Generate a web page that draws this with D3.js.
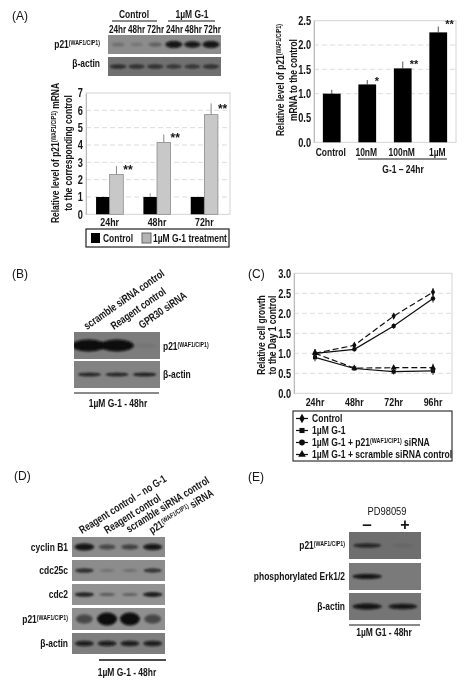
<!DOCTYPE html>
<html><head><meta charset="utf-8">
<script src="https://cdn.jsdelivr.net/npm/d3@7"></script>
<style>
html,body{margin:0;padding:0;background:#fff}
text{font-family:"Liberation Sans",Arial,sans-serif;font-weight:bold;fill:#141414}
</style></head><body><svg id="c" width="468" height="686"></svg>
<script>
// ---- Data ----
const timeA = ["24hr","48hr","72hr"];
const controlA = [1,1,1];
const controlErrA = [0.03,0.22,0.03];
const treatA = [2.3,4.15,5.75];
const treatErrA = [0.48,0.45,0.65];
const sigA = ["**","**","**"];
const doseCats = ["Control","10nM","100nM","1µM"];
const doseVals = [1,1.19,1.52,2.26];
const doseErr = [0.08,0.09,0.14,0.12];
const doseSig = ["","*","**","**"];
const timeC = ["24hr","48hr","72hr","96hr"];
const growthControl = [1.0,1.2,1.93,2.53];
const growthSirna = [1.0,1.1,1.68,2.37];
const growthG1 = [0.9,0.62,0.54,0.56];
const growthScramble = [1.0,0.63,0.64,0.64];
const growthErr = [0.1,0.05,0.07,0.1];
const ticksA = [0,1,2,3,4,5,6,7];
const ticksDose = [0,0.5,1,1.5,2,2.5];
const ticksC = [0,0.5,1,1.5,2,2.5,3];
// Blot band density per lane (0-1)
const blotA_p21 = [0.25,0.18,0.35,0.95,0.9,0.95];
const blotA_actin = [0.75,0.7,0.7,0.65,0.65,0.7];
const blotB_p21 = [1,1,0.06];
const blotB_actin = [0.85,0.85,0.9];
const blotD_cyclin = [0.95,0.55,0.6,0.9];
const blotD_cdc25 = [0.8,0.25,0.28,0.75];
const blotD_cdc2 = [0.9,0.45,0.4,0.95];
const blotD_p21 = [0.55,1,1,0.55];
const blotD_actin = [0.85,0.85,0.85,0.85];
const blotE_p21 = [0.8,0.12];
const blotE_erk = [0.95,0];
const blotE_actin = [0.95,0.9];

const NARROW = 0.77;
const svg = d3.select("#c");
const defs = svg.append("defs");
const f = (id,s)=>defs.append("filter").attr("id",id).attr("x","-30%").attr("y","-150%").attr("width","160%").attr("height","400%")
  .append("feGaussianBlur").attr("stdDeviation",s);
f("soft",0.3); f("band",0.9);
const root = svg.append("g").attr("filter","url(#soft)");

function label(g,x,y,txt,o={}){
  const size=o.size||11, sx=o.sx||NARROW;
  const t=g.append("text").attr("text-anchor",o.anchor||"start").attr("font-size",size)
    .attr("transform",`translate(${x},${y}) ${o.rotate?`rotate(${o.rotate})`:""} scale(${sx},1)`);
  if(o.weight) t.style("font-weight",o.weight);
  txt.split("^").forEach((p,i)=>{
    const s=t.append("tspan").text(p);
    if(i%2==1) s.attr("font-size",size*0.62).attr("dy",-3);
    else if(i>0) s.attr("dy",3);
  });
  return t;
}
const P21="p21^(WAF1/CIP1)^";

function blot(x,y,w,h,bg,vals,pad,bh,bw){
  const g=root.append("g");
  g.append("rect").attr("x",x).attr("y",y).attr("width",w).attr("height",h).attr("fill",bg);
  const sc=d3.scaleBand().domain(d3.range(vals.length)).range([x,x+w]).padding(pad);
  const clipId="c"+Math.round(x)+"_"+Math.round(y);
  defs.append("clipPath").attr("id",clipId).append("rect").attr("x",x).attr("y",y).attr("width",w).attr("height",h);
  g.append("g").attr("clip-path",`url(#${clipId})`).selectAll("ellipse").data(vals).join("ellipse")
    .attr("cx",(d,i)=>sc(i)+sc.bandwidth()/2)
    .attr("rx",d=>sc.bandwidth()*bw*(0.65+0.35*d)/2)
    .attr("cy",y+h/2)
    .attr("ry",d=>bh*(0.35+0.65*d)/2)
    .attr("fill","#080808").attr("opacity",d=>d)
    .attr("filter","url(#band)");
}
function hline(x1,x2,y,w=1.2){root.append("line").attr("x1",x1).attr("x2",x2).attr("y1",y).attr("y2",y).attr("stroke","#111").attr("stroke-width",w);}
function axes(g,x0,x1,y,yTicks,fmt,grid){
  g.append("rect").attr("x",x0).attr("y",y.range()[1]).attr("width",x1-x0).attr("height",y.range()[0]-y.range()[1])
    .attr("fill","none").attr("stroke","#d4d4d4").attr("stroke-width",1);
  g.selectAll("line.g").data(grid).join("line").attr("class","g").attr("x1",x0).attr("x2",x1)
    .attr("y1",d=>y(d)).attr("y2",d=>y(d)).attr("stroke","#dddddd").attr("stroke-dasharray","5,3");
  const a=g.append("g").attr("transform",`translate(${x0},0)`).call(d3.axisLeft(y).tickValues(yTicks).tickSize(0).tickPadding(3).tickFormat(fmt));
  a.select(".domain").attr("stroke","#bbb");
  a.selectAll("text").attr("font-size",12).attr("x",-3/NARROW).attr("transform",`scale(${NARROW},1)`);
}

// Panel labels
[["(A)",12,20],["(B)",12,278],["(C)",248,278],["(D)",14,480],["(E)",248,481]].forEach(d=>label(root,d[1],d[2],d[0],{size:12,weight:"normal",sx:1}));

// ---- Panel A blot
blot(108,35,113,19,"#8c8c8c",blotA_p21,0.08,7,1.0);
blot(108,57,113,19,"#707070",blotA_actin,0.08,5,1.05);
hline(112,157,21);hline(168,215,21);
label(root,134,18,"Control",{anchor:"middle"});
label(root,192,18,"1µM G-1",{anchor:"middle"});
const laneA=d3.scaleBand().domain(d3.range(6)).range([108,222]).padding(0.02);
["24hr","48hr","72hr","24hr","48hr","72hr"].forEach((t,i)=>label(root,laneA(i)+laneA.bandwidth()/2,33,t,{anchor:"middle",size:11,sx:0.74}));
label(root,100,48,P21,{anchor:"end"});
label(root,100,67,"β-actin",{anchor:"end"});

// ---- Panel A bars
{
  const g=root.append("g");
  const y=d3.scaleLinear().domain([0,7]).range([214.3,93]);
  const x=d3.scaleBand().domain(timeA).range([86,228]).paddingInner(0);
  axes(g,86,230,y,ticksA,d3.format("d"),[1,2,3,4,5,6]);
  const bw=13.6, off=d=>x(d)+x.bandwidth()/2;
  timeA.forEach((t,i)=>{
    g.append("line").attr("x1",off(t)-bw/2).attr("x2",off(t)-bw/2).attr("y1",y(controlA[i])).attr("y2",y(controlA[i]+controlErrA[i])).attr("stroke","#999");
    g.append("line").attr("x1",off(t)+bw/2).attr("x2",off(t)+bw/2).attr("y1",y(treatA[i])).attr("y2",y(treatA[i]+treatErrA[i])).attr("stroke","#888");
    g.append("rect").attr("x",off(t)-bw).attr("width",bw).attr("y",y(controlA[i])).attr("height",y(0)-y(controlA[i])).attr("fill","#050505");
    g.append("rect").attr("x",off(t)).attr("width",bw).attr("y",y(treatA[i])).attr("height",y(0)-y(treatA[i])).attr("fill","#c8c8c8").attr("stroke","#808080").attr("stroke-width",0.7);
    label(g,off(t)+bw,y(treatA[i]+treatErrA[i]*0.5)+4,sigA[i],{size:12,sx:1});
    label(g,off(t),226,t,{anchor:"middle",size:11.5});
  });
  label(root,59,153,"Relative level of "+P21+" mRNA",{anchor:"middle",rotate:-90});
  label(root,72,153,"to the corresponding control",{anchor:"middle",rotate:-90});
  const lg=root.append("g");
  lg.append("rect").attr("x",86).attr("y",229).attr("width",143).attr("height",18).attr("fill","#fff").attr("stroke","#222").attr("stroke-width",1.2);
  lg.append("rect").attr("x",91).attr("y",233).attr("width",9).attr("height",10).attr("fill","#050505");
  label(lg,103,242,"Control");
  lg.append("rect").attr("x",142).attr("y",233).attr("width",9).attr("height",10).attr("fill","#b4b4b4").attr("stroke","#666");
  label(lg,153,242,"1µM G-1 treatment");
}

// ---- Panel A right
{
  const g=root.append("g");
  const y=d3.scaleLinear().domain([0,2.5]).range([142.3,20.7]);
  const x=d3.scaleBand().domain(doseCats).range([314,456]).paddingInner(0.5).paddingOuter(0.25);
  axes(g,314,456,y,ticksDose,d3.format(".1f"),[1,1.5,2]);
  doseCats.forEach((c,i)=>{
    const cx=x(c)+x.bandwidth()/2;
    g.append("line").attr("x1",cx).attr("x2",cx).attr("y1",y(doseVals[i])).attr("y2",y(doseVals[i]+doseErr[i])).attr("stroke","#555");
    g.append("rect").attr("x",x(c)).attr("width",x.bandwidth()).attr("y",y(doseVals[i])).attr("height",y(0)-y(doseVals[i])).attr("fill","#050505");
    if(doseSig[i]) label(g,x(c)+x.bandwidth()+(i==1?3:-2),y(doseVals[i]+doseErr[i]*0.4)+(i==3?-2:2),doseSig[i],{size:11,anchor:i==1?"end":"start",sx:1});
    label(g,cx-1,156,c,{anchor:"middle"});
  });
  hline(358,447,159);
  label(root,403,173,"G-1 – 24hr",{anchor:"middle"});
  label(root,284,80,"Relative level of "+P21,{anchor:"middle",rotate:-90});
  label(root,297,80,"mRNA to the control",{anchor:"middle",rotate:-90});
}

// ---- Panel B
blot(74,332,86,27,"#7c7c7c",blotB_p21,0.02,12,1.2);
blot(74,361,86,27,"#828282",blotB_actin,0.12,4,1.0);
[["scramble siRNA control",87,330],["Reagent control",114,330],["GPR30 siRNA",142,329]].forEach(d=>
  label(root,d[1],d[2],d[0],{rotate:-35}));
label(root,163,350,P21);
label(root,163,378,"β-actin");
hline(74,159,393);
label(root,118,407,"1µM G-1 - 48hr",{anchor:"middle"});

// ---- Panel C
{
  const g=root.append("g");
  const y=d3.scaleLinear().domain([0,3]).range([393.3,273.3]);
  const x=d3.scalePoint().domain(timeC).range([315,433]);
  axes(g,294,452,y,ticksC,d3.format(".1f"),[0.5,1,1.5,2,2.5]);
  const ln=d3.line().x((d,i)=>x(timeC[i])).y(d=>y(d));
  const series=[
    {v:growthControl,dash:"6,3",sym:d3.symbolDiamond},
    {v:growthSirna,dash:null,sym:d3.symbolCircle},
    {v:growthG1,dash:null,sym:d3.symbolSquare},
    {v:growthScramble,dash:"6,3",sym:d3.symbolTriangle}];
  series.forEach(s=>{
    g.append("path").attr("d",ln(s.v)).attr("fill","none").attr("stroke","#111").attr("stroke-width",1.2).attr("stroke-dasharray",s.dash);
    s.v.forEach((d,i)=>{
      g.append("line").attr("x1",x(timeC[i])).attr("x2",x(timeC[i])).attr("y1",y(d-growthErr[i])).attr("y2",y(d+growthErr[i])).attr("stroke","#222");
      g.append("path").attr("d",d3.symbol().type(s.sym).size(16)()).attr("transform",`translate(${x(timeC[i])},${y(d)})`).attr("fill","#111");
    });
  });
  timeC.forEach(t=>label(g,x(t),406,t,{anchor:"middle",size:11.5}));
  label(root,265,335,"Relative cell growth",{anchor:"middle",rotate:-90});
  label(root,276,335,"to the Day 1 control",{anchor:"middle",rotate:-90});
  const lg=root.append("g");
  lg.append("rect").attr("x",293).attr("y",411).attr("width",159).attr("height",50).attr("fill","#fff").attr("stroke","#222").attr("stroke-width",1.1);
  const names=["Control","1µM G-1","1µM G-1 + "+P21+" siRNA","1µM G-1 + scramble siRNA control"];
  const syms=[d3.symbolDiamond,d3.symbolSquare,d3.symbolCircle,d3.symbolTriangle];
  const ly=d3.scalePoint().domain(d3.range(4)).range([418.5,454.5]);
  names.forEach((n,i)=>{
    lg.append("line").attr("x1",296).attr("x2",308).attr("y1",ly(i)).attr("y2",ly(i)).attr("stroke","#111").attr("stroke-width",1.2);
    lg.append("path").attr("d",d3.symbol().type(syms[i]).size(26)()).attr("transform",`translate(302,${ly(i)})`).attr("fill","#111");
    label(lg,312,ly(i)+3.5,n,{sx:0.78});
  });
}

// ---- Panel D
const dRows=[[blotD_cyclin,537,20,"cyclin B1","#8a8a8a",7],[blotD_cdc25,560,21,"cdc25c","#8c8c8c",4.5],[blotD_cdc2,584,21,"cdc2","#929292",4.5],[blotD_p21,608,22,"p21","#8f8f8f",13],[blotD_actin,633,21,"β-actin","#7e7e7e",6]];
dRows.forEach(r=>{
  blot(72,r[1],93,r[2],r[4],r[0],0.08,r[5],0.95);
  label(root,68,r[1]+r[2]/2+3.5,r[3]=="p21"?P21:r[3],{anchor:"end"});
});
[["Reagent control – no G-1",82,534],["Reagent control",107,534],["scramble siRNA control",129,533],["p21^(WAF1/CIP1)^ siRNA",152,534]].forEach(d=>
  label(root,d[1],d[2],d[0],{rotate:-32}));
hline(99,166,660,1.6);
label(root,127,676,"1µM G-1 - 48hr",{anchor:"middle"});

// ---- Panel E
const eRows=[[blotE_p21,532,27,P21,"#6e6e6e",4.5],[blotE_erk,563,27,"phosphorylated Erk1/2","#7a7a7a",5],[blotE_actin,593,27,"β-actin","#747474",6]];
eRows.forEach(r=>{
  blot(349,r[1],72,r[2],r[4],r[0],0.02,r[5],0.85);
  label(root,345,r[1]+r[2]/2+3,r[3],{anchor:"end"});
});
label(root,387,515,"PD98059",{anchor:"middle",weight:"normal",sx:0.85});
label(root,367,530,"–",{anchor:"middle",size:17,sx:1});
label(root,405,530,"+",{anchor:"middle",size:16,sx:1});
hline(349,420,625);
label(root,384,636,"1µM G1 - 48hr",{anchor:"middle"});
</script></body></html>
